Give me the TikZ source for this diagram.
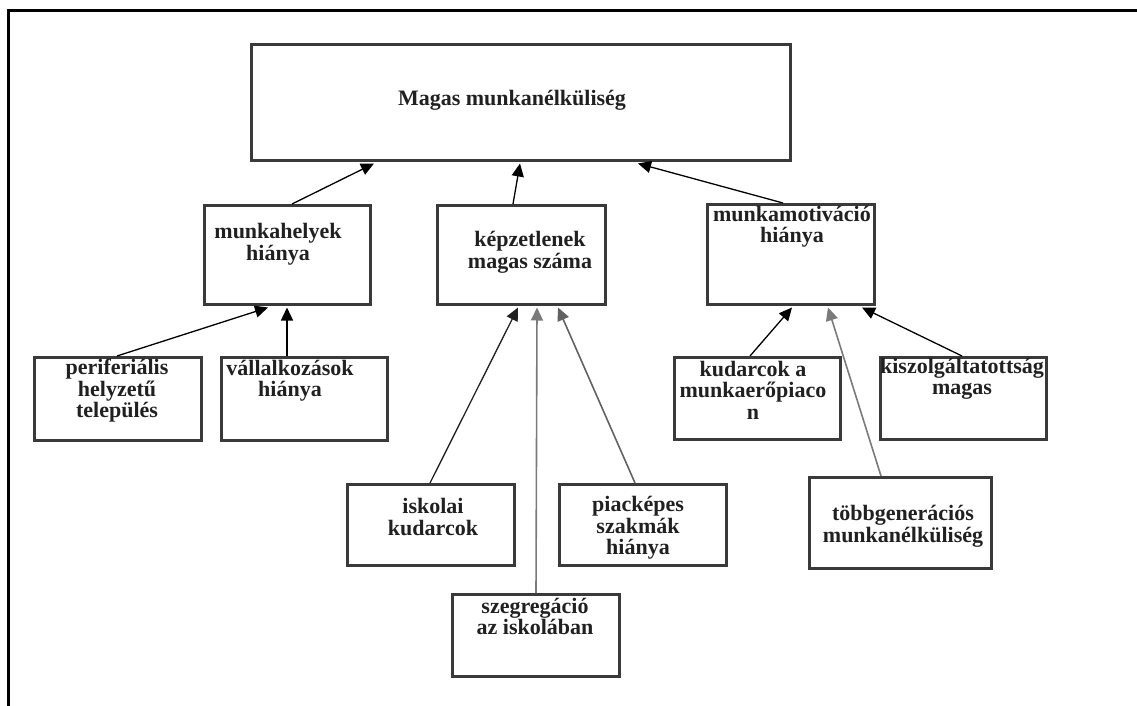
\documentclass[tikz,border=0pt]{standalone}
\usepackage{fontspec}
\setmainfont{Liberation Serif}
\usetikzlibrary{arrows.meta}
\definecolor{boxc}{HTML}{3A3A3A}
\definecolor{txtc}{HTML}{202020}
\definecolor{grayarr}{HTML}{7A7A7A}
\begin{document}
\begin{tikzpicture}[x=1pt,y=-1pt,
  box/.style={draw=boxc,line width=3pt,rectangle,inner sep=0pt},
  lbl/.style={text=txtc,align=center,inner sep=0pt,font=\fontsize{22}{21.5}\selectfont\bfseries},
  arr/.style={draw=black,line width=1.3pt,-{Triangle[length=13pt,width=12pt]}},
  garr/.style={arr,draw=grayarr,line width=1.6pt}]
\useasboundingbox (0,0) rectangle (1137,706);
% outer frame (top and left sides only)
\draw[line width=3pt,black] (8.5,706) -- (8.5,10.5) -- (1137,10.5);
% boxes
\node[box,minimum width=539pt,minimum height=116pt] (top) at (521,102.5) {};
\node[box,minimum width=166pt,minimum height=99pt] (munka) at (287.5,255) {};
\node[box,minimum width=168pt,minimum height=99pt] (kepz) at (521.5,255) {};
\node[box,minimum width=167pt,minimum height=100pt] (motiv) at (791,254.5) {};
\node[box,minimum width=167pt,minimum height=83pt] (perif) at (118,399) {};
\node[box,minimum width=166pt,minimum height=83pt] (vall) at (304.5,399) {};
\node[box,minimum width=166pt,minimum height=82pt] (kud) at (757.5,398.5) {};
\node[box,minimum width=166pt,minimum height=82pt] (kisz) at (963.5,398.5) {};
\node[box,minimum width=167pt,minimum height=81pt] (isk) at (431,525) {};
\node[box,minimum width=167pt,minimum height=81pt] (piac) at (643,525) {};
\node[box,minimum width=167pt,minimum height=82pt] (szeg) at (536,635.5) {};
\node[box,minimum width=182pt,minimum height=91pt] (tobb) at (900.5,523) {};
% labels
\node[lbl] (ttop) at (512,100) {Magas munkanélküliség};
\node[lbl] (tmunka) at (278,244) {munkahelyek\\hiánya};
\node[lbl] (tkepz) at (530,252.5) {képzetlenek\\magas száma};
\node[lbl] (tmotiv) at (792,226.5) {munkamotiváció\\hiánya};
\node[lbl] (tperif) at (117,391) {periferiális\\helyzetű\\település};
\node[lbl] (tvall) at (290,380.5) {vállalkozások\\hiánya};
\node[lbl] (tkud) at (753,390) {kudarcok a\\munkaerőpiaco\\n};
\node[lbl] (tkisz) at (962,379) {kiszolgáltatottság\\magas};
\node[lbl] (tisk) at (433,517) {iskolai\\kudarcok};
\node[lbl] (tpiac) at (638,528) {piacképes\\szakmák\\hiánya};
\node[lbl] (tszeg) at (535,616.5) {szegregáció\\az iskolában};
\node[lbl] (ttobb) at (903,526.5) {többgenerációs\\munkanélküliség};
% connectors
\draw[arr] ([xshift=4.5pt]munka.north) -- ([xshift=-147pt,yshift=-1.5pt]top.south);
\draw[arr] ([xshift=-8.5pt]kepz.north) -- ([xshift=-1pt,yshift=-1.5pt]top.south);
\draw[arr] ([xshift=-8pt]motiv.north) -- ([xshift=117pt,yshift=-1.5pt]top.south);
\draw[arr] ([xshift=-1pt]perif.north) -- ([xshift=-19.5pt,yshift=-1.5pt]munka.south);
\draw[arr] ([xshift=-17.5pt]vall.north) -- ([xshift=-0.5pt,yshift=-1.5pt]munka.south);
\draw[arr,draw=txtc] ([xshift=-1pt]isk.north) -- ([xshift=-3.5pt,yshift=-1.5pt]kepz.south);
\draw[garr] (szeg.north) -- ([xshift=15.5pt,yshift=-1.5pt]kepz.south);
\draw[garr,draw=grayarr!80!black] ([xshift=-8pt]piac.north) -- ([xshift=36.5pt,yshift=-1.5pt]kepz.south);
\draw[arr] ([xshift=-7.5pt]kud.north) -- ([xshift=1pt,yshift=-1.5pt]motiv.south);
\draw[garr] ([xshift=-19.5pt]tobb.north) -- ([xshift=37pt,yshift=-1.5pt]motiv.south);
\draw[arr] ([xshift=-1.5pt]kisz.north) -- ([xshift=71pt,yshift=-1.5pt]motiv.south);
\end{tikzpicture}
\end{document}
